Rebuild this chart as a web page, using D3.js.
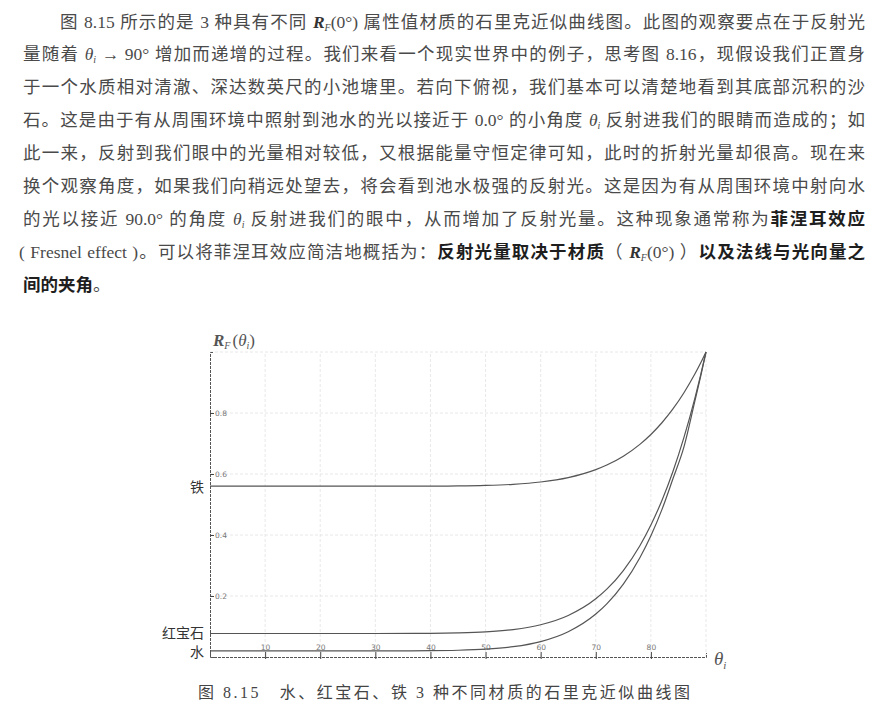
<!DOCTYPE html>
<html><head><meta charset="utf-8">
<script src="https://cdn.jsdelivr.net/npm/d3@7/dist/d3.min.js"></script>
<style>
body{margin:0;background:#fff;}
#page{position:relative;width:888px;height:711px;overflow:hidden;background:#fff;}
.ln{position:absolute;height:30px;line-height:30px;font-family:"Liberation Serif","Noto Sans CJK SC",serif;font-size:17.5px;color:#4a4a4a;white-space:nowrap;text-align:justify;text-align-last:justify;}
.ln.last{text-align:left;text-align-last:left;}
.ln b{color:#1e1e1e;font-family:"Noto Sans CJK SC",sans-serif;}
.ln .R{font-weight:bold;font-style:italic;font-family:"Liberation Serif",serif;color:#333;}
.ln sub{font-size:10px;font-style:italic;vertical-align:-3px;line-height:0;}
.ln i{font-family:"Liberation Serif",serif;}
svg{position:absolute;left:0;top:0;}
</style></head>
<body><div id="page"></div>
<script>
// ---------- data ----------
const angles = [0,10,20,30,40,45,50,55,60,65,70,72,75,78,80,82,84,86,88,89,90];
const water  = [0.020,0.020,0.020,0.020,0.0207,0.0221,0.0257,0.0338,0.0506,0.0829,0.1409,0.1744,0.2392,0.3256,0.3976,0.4832,0.5843,0.6887,0.8405,0.9174,1.0];
const ruby   = [0.077,0.077,0.077,0.077,0.0776,0.0790,0.0824,0.0900,0.1058,0.1362,0.1908,0.2224,0.2835,0.3648,0.4327,0.5133,0.6084,0.7200,0.8498,0.9222,1.0];
const iron   = [0.560,0.560,0.560,0.560,0.5603,0.5609,0.5626,0.5662,0.5738,0.5882,0.6143,0.6293,0.6584,0.6972,0.7295,0.7680,0.8133,0.8665,0.9284,0.9629,1.0];
const materialNames = ["水","红宝石","铁"];
const xTicks = [10,20,30,40,50,60,70,80];
const yTicks = [0.2,0.4,0.6,0.8];
const gridX = [10,20,30,40,50,60,70,80,90];
const gridY = [0.2,0.4,0.6,0.8,1.0];
const caption = "图 8.15　水、红宝石、铁 3 种不同材质的石里克近似曲线图";

// ---------- paragraph text ----------
const RF = '<span class="R">R</span><sub>F</sub>';
const TH = '<i>θ</i><sub>i</sub>';
const lines = [
  {x:60, y:22, html:'图 8.15 所示的是 3 种具有不同 '+RF+'(0°) 属性值材质的石里克近似曲线图。此图的观察要点在于反射光'},
  {x:23, y:54, html:'量随着 '+TH+' → 90° 增加而递增的过程。我们来看一个现实世界中的例子，思考图 8.16，现假设我们正置身'},
  {x:23, y:87, html:'于一个水质相对清澈、深达数英尺的小池塘里。若向下俯视，我们基本可以清楚地看到其底部沉积的沙'},
  {x:23, y:120, html:'石。这是由于有从周围环境中照射到池水的光以接近于 0.0° 的小角度 '+TH+' 反射进我们的眼睛而造成的；如'},
  {x:23, y:153, html:'此一来，反射到我们眼中的光量相对较低，又根据能量守恒定律可知，此时的折射光量却很高。现在来'},
  {x:23, y:186, html:'换个观察角度，如果我们向稍远处望去，将会看到池水极强的反射光。这是因为有从周围环境中射向水'},
  {x:23, y:218, html:'的光以接近 90.0° 的角度 '+TH+' 反射进我们的眼中，从而增加了反射光量。这种现象通常称为<b>菲涅耳效应</b>'},
  {x:19, y:251, html:'( Fresnel effect )。可以将菲涅耳效应简洁地概括为：<b>反射光量取决于材质</b>（ '+RF+'(0°) ）<b>以及法线与光向量之</b>'},
  {x:23, y:284, html:'<b>间的夹角</b>。', last:true}
];
const page = d3.select("#page");
page.selectAll("div.ln").data(lines).join("div")
  .attr("class", d => d.last ? "ln last" : "ln")
  .style("left", d => d.x + "px")
  .style("top", d => (d.y - 15) + "px")
  .style("width", d => d.last ? null : (865 - d.x) + "px")
  .html(d => d.html);

// ---------- chart ----------
const svg = page.append("svg").attr("width", 888).attr("height", 711);
const x = d3.scaleLinear().domain([0, 90]).range([210, 706]);
const y = d3.scaleLinear().domain([0, 1]).range([657, 352]);

// grid
const grid = svg.append("g").attr("stroke", "#e2e2e2").attr("stroke-width", 0.8).attr("stroke-dasharray", "3,2");
grid.selectAll("line.gx").data(gridX).join("line").attr("class","gx")
  .attr("x1", d => x(d)).attr("x2", d => x(d)).attr("y1", y(0)).attr("y2", y(1));
grid.selectAll("line.gy").data(gridY).join("line").attr("class","gy")
  .attr("x1", x(0)).attr("x2", x(90)).attr("y1", d => y(d)).attr("y2", d => y(d));

// x axis (labels above the axis line)
const xa = svg.append("g").attr("transform", `translate(0,${y(0)})`)
  .call(d3.axisTop(x).tickValues(xTicks).tickFormat(d3.format("d")).tickSize(5).tickSizeOuter(4).tickPadding(2));
xa.select(".domain").attr("stroke", "#555").attr("stroke-dasharray", "3,1");
xa.selectAll(".tick line").attr("y1", 2).attr("stroke", "#444");
xa.selectAll(".tick text").attr("font-family", "DejaVu Sans, sans-serif").attr("font-size", 7.5).attr("fill", "#777");

// y axis (ticks to the right)
const ya = svg.append("g").attr("transform", `translate(${x(0)},0)`)
  .call(d3.axisRight(y).tickValues(yTicks).tickFormat(d3.format(".1f")).tickSize(4).tickSizeOuter(4).tickPadding(1));
ya.select(".domain").attr("stroke", "#555").attr("stroke-dasharray", "3,1");
ya.selectAll(".tick line").attr("stroke", "#444");
ya.selectAll(".tick text").attr("font-family", "DejaVu Sans, sans-serif").attr("font-size", 7.5).attr("fill", "#777");

// curves
const series = [water, ruby, iron];
const line = d3.line().x((d, i) => x(angles[i])).y(d => y(d)).curve(d3.curveMonotoneX);
svg.append("g").selectAll("path").data(series).join("path")
  .attr("d", d => line(d)).attr("fill", "none").attr("stroke", "#555").attr("stroke-width", 1.2);

// material labels
const labelShift = [0, -1.5, 0];
svg.append("g").selectAll("text").data(series).join("text")
  .attr("x", 204).attr("y", (d, i) => y(d[0]) + labelShift[i])
  .attr("text-anchor", "end").attr("dominant-baseline", "central")
  .attr("font-family", "Noto Sans CJK SC, sans-serif").attr("font-size", 14).attr("fill", "#333")
  .text((d, i) => materialNames[i]);

// axis titles
const yt = svg.append("text").attr("x", 213).attr("y", 346)
  .attr("font-family", "Liberation Serif, serif").attr("font-size", 17).attr("fill", "#555");
yt.append("tspan").attr("font-weight", "bold").attr("font-style", "italic").text("R");
yt.append("tspan").attr("font-style", "italic").attr("font-size", 10).attr("dy", 3).text("F");
yt.append("tspan").attr("dy", -3).attr("dx", 2).text("(");
yt.append("tspan").attr("font-style", "italic").text("θ");
yt.append("tspan").attr("font-style", "italic").attr("font-size", 10).attr("dy", 3).text("i");
yt.append("tspan").attr("dy", -3).text(")");

const xt = svg.append("text").attr("x", 714).attr("y", 665)
  .attr("font-family", "Liberation Serif, serif").attr("font-size", 19).attr("fill", "#555");
xt.append("tspan").attr("font-style", "italic").text("θ");
xt.append("tspan").attr("font-style", "italic").attr("font-size", 11).attr("dy", 4).text("i");

// caption
svg.append("text").attr("x", 198).attr("y", 698)
  .attr("textLength", 492).attr("lengthAdjust", "spacing")
  .attr("font-family", "Liberation Serif, Noto Sans CJK SC, serif").attr("font-size", 16).attr("fill", "#444")
  .text(caption);
</script></body></html>
